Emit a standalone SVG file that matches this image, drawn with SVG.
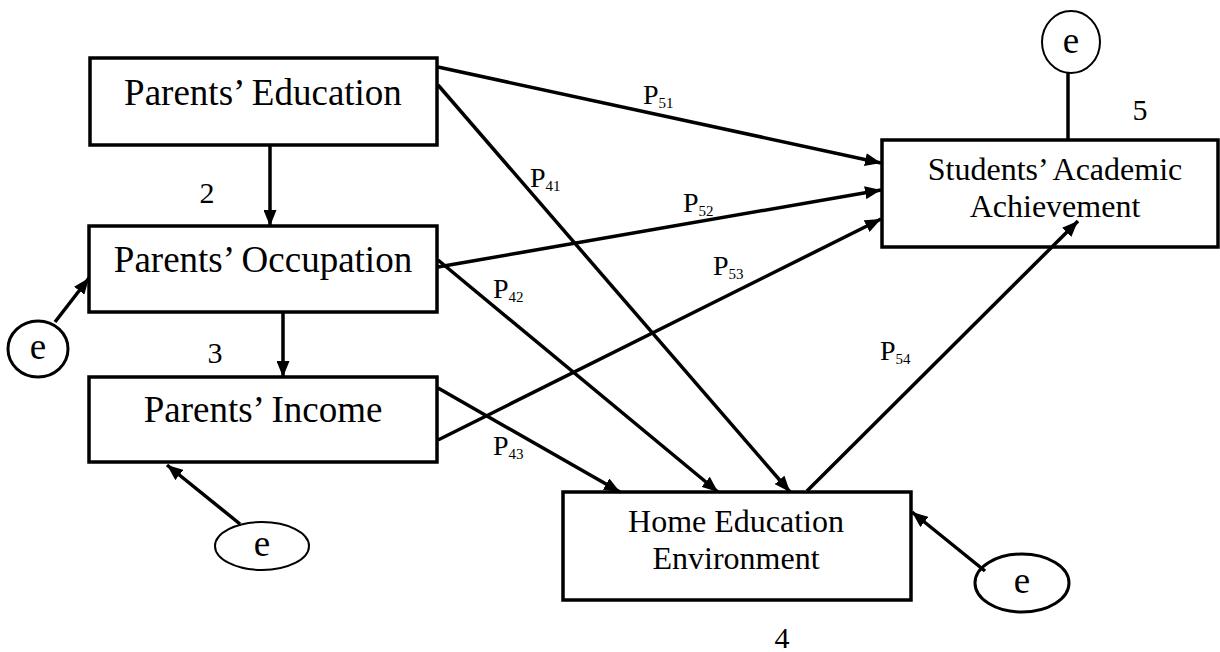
<svg xmlns="http://www.w3.org/2000/svg" width="1220" height="652" viewBox="0 0 1220 652">
<defs>
<marker id="ah" markerUnits="userSpaceOnUse" markerWidth="17" markerHeight="13" refX="16" refY="6.5" orient="auto">
<path d="M0,0 L16,6.5 L0,13 z" fill="#000"/>
</marker>
<style>
.box{fill:#fff;stroke:#000;stroke-width:3.5}
.t{font-family:"Liberation Serif","Times New Roman",serif;fill:#000;text-anchor:middle}
.big{font-size:37px}
.mid{font-size:32px}
.num{font-size:30px}
.pl{font-family:"Liberation Serif","Times New Roman",serif;font-size:28px;fill:#000}
.sub{font-size:15px}
.c{fill:none;stroke:#000;stroke-width:3.5;marker-end:url(#ah)}
.cn{fill:none;stroke:#000;stroke-width:3.5}
.e{fill:#fff;stroke:#000;stroke-width:3}
.e2{fill:#fff;stroke:#000;stroke-width:2}
</style>
</defs>
<rect width="1220" height="652" fill="#fff"/>
<g id="n1">
<rect class="box" x="90" y="58" width="347" height="87"/>
<text class="t big" x="263" y="105">Parents’ Education</text>
</g>
<g id="n2">
<rect class="box" x="89" y="226" width="348" height="86"/>
<text class="t big" x="263" y="272">Parents’ Occupation</text>
<text class="t num" x="207" y="203">2</text>
</g>
<g id="n3">
<rect class="box" x="89" y="377" width="348" height="85"/>
<text class="t big" x="263" y="422">Parents’ Income</text>
<text class="t num" x="215" y="363">3</text>
</g>
<g id="n4">
<rect class="box" x="563" y="492" width="348" height="108"/>
<text class="t mid" x="736" y="532">Home Education</text>
<text class="t mid" x="736" y="569">Environment</text>
<text class="t num" x="782" y="648">4</text>
</g>
<g id="n5">
<rect class="box" x="882" y="140" width="336" height="107"/>
<text class="t mid" x="1055" y="180">Students’ Academic</text>
<text class="t mid" x="1055" y="217">Achievement</text>
<text class="t num" x="1140" y="120">5</text>
</g>
<g id="e5">
<ellipse class="e2" cx="1071" cy="42" rx="29" ry="31"/>
<text class="t big" x="1071" y="53">e</text>
</g>
<g id="e2">
<ellipse class="e" cx="38" cy="349" rx="30" ry="28"/>
<text class="t big" x="38" y="359">e</text>
</g>
<g id="e3">
<ellipse class="e2" cx="262" cy="546" rx="47" ry="24"/>
<text class="t big" x="262" y="556">e</text>
</g>
<g id="e4">
<ellipse class="e" cx="1022" cy="583" rx="47" ry="29"/>
<text class="t big" x="1022" y="593">e</text>
</g>
<g id="connectors">
<line class="c" x1="270" y1="146" x2="270" y2="226"/>
<line class="c" x1="283" y1="313" x2="283" y2="377"/>
<line class="c" x1="438" y1="67" x2="881" y2="163"/>
<line class="c" x1="438" y1="85" x2="790" y2="492"/>
<line class="c" x1="438" y1="267" x2="881" y2="190"/>
<line class="c" x1="438" y1="260" x2="718" y2="492"/>
<line class="c" x1="438" y1="440" x2="881" y2="219"/>
<line class="c" x1="438" y1="388" x2="620" y2="492"/>
<line class="c" x1="807" y1="491" x2="1078" y2="221"/>
<line class="c" x1="55" y1="322" x2="89" y2="278"/>
<line class="cn" x1="1068" y1="73" x2="1068" y2="139"/>
<line class="c" x1="240" y1="524" x2="167" y2="465"/>
<line class="c" x1="985" y1="571" x2="912" y2="512"/>
</g>
<g id="labels">
<text class="pl" x="643" y="104">P<tspan class="sub" dy="4">51</tspan></text>
<text class="pl" x="530" y="187">P<tspan class="sub" dy="4">41</tspan></text>
<text class="pl" x="683" y="212">P<tspan class="sub" dy="4">52</tspan></text>
<text class="pl" x="713" y="275">P<tspan class="sub" dy="4">53</tspan></text>
<text class="pl" x="493" y="298">P<tspan class="sub" dy="4">42</tspan></text>
<text class="pl" x="493" y="455">P<tspan class="sub" dy="4">43</tspan></text>
<text class="pl" x="880" y="360">P<tspan class="sub" dy="4">54</tspan></text>
</g>
</svg>
